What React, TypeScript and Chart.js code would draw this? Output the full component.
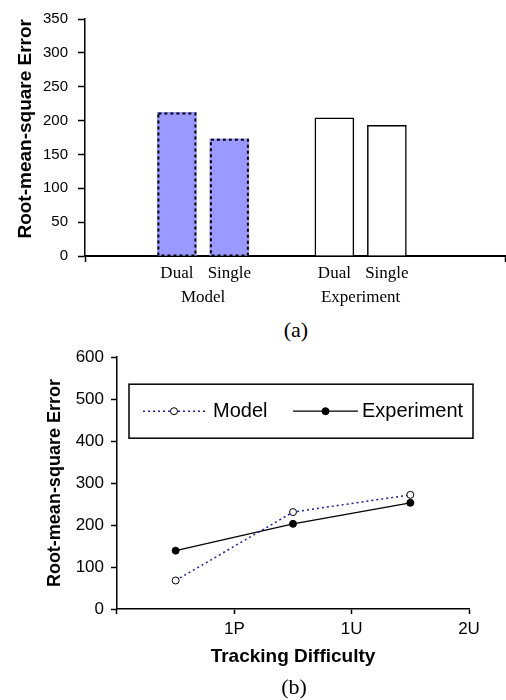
import React, { useEffect, useRef } from "react";
import { Chart, registerables } from "chart.js";

Chart.register(...registerables);

const SANS = "'Liberation Sans', Arial, Helvetica, sans-serif";
const SERIF = "'Liberation Serif', 'Times New Roman', Times, serif";

// ---------- (a) bar chart data ----------
const groupNames = ["Model", "Experiment"];
const conditionNames = ["Dual", "Single"];
const modelRmse = [212, 173];
const experimentRmse = [204, 193];
const barYMin = 0;
const barYMax = 350;
const barYStep = 50;

// ---------- (b) line chart data ----------
const difficultyLabels = ["1P", "1U", "2U"];
const modelLine = [68, 231, 272];
const experimentLine = [139, 203, 253];
const lineYMin = 0;
const lineYMax = 600;
const lineYStep = 100;

// ---------- layout of the bar chart's category slots ----------
const SLOT_COUNT = 16;
const GROUP_FIRST_SLOT = [3, 9];

const slotLabels: (string | string[])[] = Array.from({ length: SLOT_COUNT }, () => "");
const modelSlots: (number | null)[] = Array.from({ length: SLOT_COUNT }, () => null);
const experimentSlots: (number | null)[] = Array.from({ length: SLOT_COUNT }, () => null);
GROUP_FIRST_SLOT.forEach((start, g) => {
  conditionNames.forEach((c, i) => {
    slotLabels[start + 2 * i] = c;
  });
  slotLabels[start + 1] = ["", groupNames[g]];
});
conditionNames.forEach((_, i) => {
  modelSlots[GROUP_FIRST_SLOT[0] + 2 * i] = modelRmse[i];
  experimentSlots[GROUP_FIRST_SLOT[1] + 2 * i] = experimentRmse[i];
});

const dottedBarBorder = {
  id: "dottedBarBorder",
  afterDatasetsDraw(chart: any) {
    const meta = chart.getDatasetMeta(0);
    const values = chart.data.datasets[0].data;
    const ctx = chart.ctx;
    ctx.save();
    ctx.setLineDash([3, 3]);
    ctx.lineWidth = 2;
    ctx.strokeStyle = "#000";
    meta.data.forEach((el: any, i: number) => {
      if (values[i] == null) return;
      const { x, y, base, width } = el.getProps(["x", "y", "base", "width"], true);
      if (!Number.isFinite(y) || !Number.isFinite(x)) return;
      ctx.strokeRect(x - width / 2 + 1, y + 1, width - 2, base - y - 1);
    });
    ctx.restore();
  },
};

const boxedLegend = {
  id: "boxedLegend",
  afterDraw(chart: any) {
    const { ctx, chartArea } = chart;
    const left = chartArea.left + 12;
    const right = chartArea.right + 4;
    const top = chartArea.top + 27;
    const height = 54;
    const cy = top + height / 2;
    ctx.save();
    ctx.fillStyle = "#fff";
    ctx.fillRect(left, top, right - left, height);
    ctx.strokeStyle = "#000";
    ctx.lineWidth = 1.5;
    ctx.strokeRect(left, top, right - left, height);
    const itemLayout = [
      { a: 14, b: 76, t: 84 },
      { a: 164, b: 229, t: 233 },
    ];
    chart.data.datasets.forEach((ds: any, i: number) => {
      const L = itemLayout[i];
      ctx.save();
      ctx.strokeStyle = ds.borderColor;
      ctx.lineWidth = ds.borderWidth;
      ctx.setLineDash(ds.borderDash || []);
      ctx.beginPath();
      ctx.moveTo(left + L.a, cy);
      ctx.lineTo(left + L.b, cy);
      ctx.stroke();
      ctx.setLineDash([]);
      ctx.beginPath();
      ctx.arc(left + (L.a + L.b) / 2, cy, ds.pointRadius, 0, Math.PI * 2);
      ctx.fillStyle = ds.pointBackgroundColor;
      ctx.fill();
      ctx.lineWidth = ds.pointBorderWidth;
      ctx.strokeStyle = ds.pointBorderColor;
      ctx.stroke();
      ctx.restore();
      ctx.fillStyle = "#000";
      ctx.font = `20px ${SANS}`;
      ctx.textAlign = "left";
      ctx.textBaseline = "middle";
      ctx.fillText(ds.label, left + L.t, cy);
    });
    ctx.restore();
  },
};

export default function App() {
  const refA = useRef<HTMLCanvasElement>(null);
  const refB = useRef<HTMLCanvasElement>(null);

  useEffect(() => {
    const chartA = new Chart(refA.current as HTMLCanvasElement, {
      type: "bar",
      data: {
        labels: slotLabels as any,
        datasets: [
          {
            label: "Model",
            data: modelSlots,
            backgroundColor: "#9999ff",
            borderWidth: 0,
            barThickness: 39,
            grouped: false,
          } as any,
          {
            label: "Experiment",
            data: experimentSlots,
            backgroundColor: "#ffffff",
            borderColor: "#000",
            borderWidth: 1.5,
            barThickness: 39,
            grouped: false,
          } as any,
        ],
      },
      options: {
        responsive: false,
        animation: false,
        layout: { padding: { top: 13, right: 1, left: 0, bottom: 0 } },
        plugins: { legend: { display: false }, tooltip: { enabled: false } },
        scales: {
          x: {
            type: "category",
            offset: true,
            afterFit: (s: any) => {
              s.height = 59;
            },
            grid: {
              display: true,
              drawOnChartArea: false,
              drawTicks: true,
              offset: true,
              tickLength: 6,
              tickWidth: 1.5,
              tickColor: (ctx: any) =>
                ctx.type === "scale" || ctx.index === 0 ? "#000" : "rgba(0,0,0,0)",
            },
            border: { display: true, color: "#000", width: 2 },
            ticks: {
              autoSkip: false,
              maxRotation: 0,
              minRotation: 0,
              padding: 0,
              color: "#000",
              font: { family: SERIF, size: 17, lineHeight: 24 / 17 },
            },
          },
          y: {
            min: barYMin,
            max: barYMax,
            afterFit: (s: any) => {
              s.width = 85;
            },
            ticks: {
              stepSize: barYStep,
              padding: 10,
              color: "#000",
              font: { family: SANS, size: 15 },
            },
            grid: { drawOnChartArea: false, tickLength: 7, tickColor: "#000", tickWidth: 1.5 },
            border: { color: "#000", width: 1.5 },
            title: {
              display: true,
              text: "Root-mean-square Error",
              align: "end",
              color: "#000",
              font: { family: SANS, size: 19, weight: "bold" },
              padding: { top: 14, bottom: 0 },
            },
          },
        },
      } as any,
      plugins: [dottedBarBorder],
    });

    const chartB = new Chart(refB.current as HTMLCanvasElement, {
      type: "line",
      data: {
        labels: difficultyLabels,
        datasets: [
          {
            label: "Model",
            data: modelLine,
            borderColor: "#1f1f9a",
            borderWidth: 1.5,
            borderDash: [2, 3],
            pointRadius: 3.5,
            pointBackgroundColor: "#fff",
            pointBorderColor: "#000",
            pointBorderWidth: 1,
            tension: 0,
          },
          {
            label: "Experiment",
            data: experimentLine,
            borderColor: "#000",
            borderWidth: 1.2,
            pointRadius: 3.5,
            pointBackgroundColor: "#000",
            pointBorderColor: "#000",
            pointBorderWidth: 1,
            tension: 0,
          },
        ],
      },
      options: {
        responsive: false,
        animation: false,
        layout: { padding: { top: 12, right: 37, left: 0, bottom: 0 } },
        plugins: { legend: { display: false }, tooltip: { enabled: false } },
        scales: {
          x: {
            type: "category",
            offset: true,
            afterFit: (s: any) => {
              s.height = 66;
            },
            grid: {
              offset: true,
              drawOnChartArea: false,
              tickLength: 5,
              tickColor: "#000",
              tickWidth: 1.5,
            },
            border: { color: "#000", width: 1.5 },
            ticks: {
              autoSkip: false,
              maxRotation: 0,
              minRotation: 0,
              labelOffset: 58.7,
              padding: 5,
              color: "#000",
              font: { family: SANS, size: 17 },
            },
            title: {
              display: true,
              text: "Tracking Difficulty",
              color: "#000",
              font: { family: SANS, size: 19, weight: "bold" },
              padding: { top: 0, bottom: 6.6 },
            },
          },
          y: {
            min: lineYMin,
            max: lineYMax,
            afterFit: (s: any) => {
              s.width = 117;
            },
            ticks: {
              stepSize: lineYStep,
              padding: 7,
              color: "#000",
              font: { family: SANS, size: 17 },
            },
            grid: { drawOnChartArea: false, tickLength: 6, tickColor: "#000", tickWidth: 1.5 },
            border: { color: "#000", width: 1.5 },
            title: {
              display: true,
              text: "Root-mean-square Error",
              color: "#000",
              font: { family: SANS, size: 18, weight: "bold" },
              padding: { top: 44, bottom: 0 },
            },
          },
        },
      } as any,
      plugins: [boxedLegend],
    });

    return () => {
      chartA.destroy();
      chartB.destroy();
    };
  }, []);

  return (
    <div
      style={{
        position: "fixed",
        left: 0,
        top: 0,
        width: 506,
        height: 700,
        background: "#fff",
        overflow: "hidden",
      }}
    >
      <canvas
        ref={refA}
        width={506}
        height={315}
        style={{ position: "absolute", left: 0, top: 0, width: 506, height: 315 }}
      />
      <div
        style={{
          position: "absolute",
          left: 246,
          top: 317,
          width: 100,
          textAlign: "center",
          fontFamily: SERIF,
          fontSize: 22,
          lineHeight: "26px",
          color: "#000",
        }}
      >
        (a)
      </div>
      <canvas
        ref={refB}
        width={506}
        height={335}
        style={{ position: "absolute", left: 0, top: 340, width: 506, height: 335 }}
      />
      <div
        style={{
          position: "absolute",
          left: 244,
          top: 674,
          width: 100,
          textAlign: "center",
          fontFamily: SERIF,
          fontSize: 22,
          lineHeight: "26px",
          color: "#000",
        }}
      >
        (b)
      </div>
    </div>
  );
}
